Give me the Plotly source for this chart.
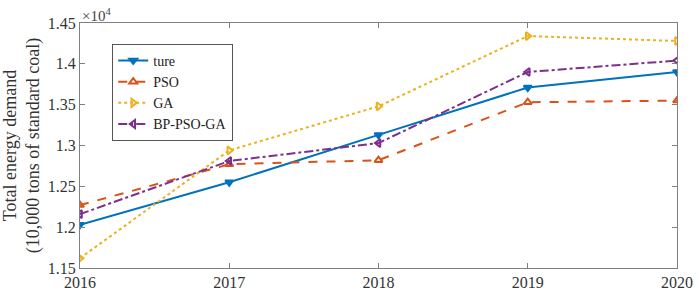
import plotly.graph_objects as go

years = [2016, 2017, 2018, 2019, 2020]
ture = [1.203, 1.255, 1.313, 1.371, 1.390]
pso = [1.227, 1.277, 1.282, 1.353, 1.355]
ga = [1.162, 1.294, 1.348, 1.434, 1.428]
bp_pso_ga = [1.216, 1.281, 1.303, 1.390, 1.404]
y_ticks = [1.15, 1.2, 1.25, 1.3, 1.35, 1.4, 1.45]
y_tick_text = ["1.15", "1.2", "1.25", "1.3", "1.35", "1.4", "1.45"]

fig = go.Figure()
series = [
    ("ture", ture, "#0072BD", "solid", "triangle-down"),
    ("PSO", pso, "#D95319", "dash", "triangle-up-open"),
    ("GA", ga, "#EDB120", "dot", "triangle-right-open"),
    ("BP-PSO-GA", bp_pso_ga, "#7E2F8E", "dashdot", "triangle-left-open"),
]
for name, vals, col, dash, sym in series:
    fig.add_trace(go.Scatter(
        x=years, y=vals, name=name, mode="lines+markers",
        line=dict(color=col, width=2, dash=dash),
        marker=dict(symbol=sym, size=7, color=col, line=dict(color=col, width=2)),
    ))

axis_common = dict(
    showline=True, linecolor="#808080", linewidth=1, mirror="ticks",
    ticks="inside", ticklen=5, tickcolor="#808080", showgrid=False, zeroline=False,
    tickfont=dict(family="Liberation Serif", size=16, color="#333"),
    automargin=False,
)
fig.update_xaxes(range=[2016, 2020], tickvals=years, **axis_common)
fig.update_yaxes(range=[1.15, 1.45], tickvals=y_ticks, ticktext=y_tick_text,
                 title=dict(text="Total energy demand<br>(10,000 tons of standard coal)",
                            font=dict(family="Liberation Serif", size=18, color="#333"),
                            standoff=4),
                 **axis_common)

fig.add_annotation(x=0, y=1, xref="paper", yref="paper", xanchor="left", yanchor="bottom",
                   text="×10<sup>4</sup>", showarrow=False, xshift=0, yshift=-3,
                   font=dict(family="Liberation Serif", size=15, color="#444"))

fig.update_layout(
    width=699, height=291,
    margin=dict(l=80, r=22, t=23, b=23),
    plot_bgcolor="white", paper_bgcolor="white",
    legend=dict(x=0.054, y=0.915, xanchor="left", yanchor="top",
                bgcolor="white", bordercolor="#555", borderwidth=1,
                font=dict(family="Liberation Serif", size=14, color="#222"),
                tracegroupgap=0, itemwidth=30),
)
fig.write_html("out.html", config={"displayModeBar": False},
               post_script="document.body.style.margin='0';document.body.style.overflow='hidden';")
